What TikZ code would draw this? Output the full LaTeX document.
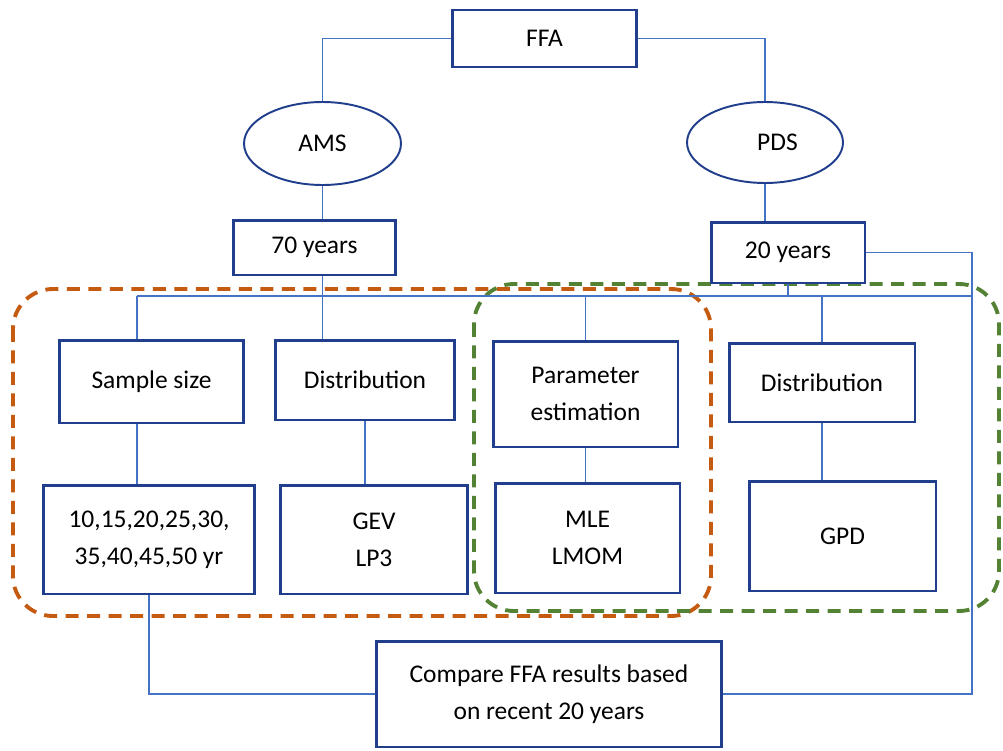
\documentclass[tikz,border=0pt]{standalone}
\usepackage{fontspec}
\setmainfont{Carlito}
\usetikzlibrary{shapes.geometric}
\definecolor{boxc}{RGB}{32,62,140}
\definecolor{linkc}{RGB}{68,114,196}
\definecolor{amsc}{RGB}{197,90,17}
\definecolor{pdsc}{RGB}{84,130,53}

\begin{document}
\begin{tikzpicture}[
  x=0.02cm, y=-0.02cm,
  font=\fontsize{14.5}{21}\selectfont,
  blk/.style={draw=boxc, line width=1.7pt, fill=white, align=center, inner sep=0},
  owal/.style={ellipse, draw=boxc, line width=1.1pt, fill=white, inner sep=0},
  lnk/.style={draw=linkc, line width=0.6pt},
  grp/.style={line width=2.2pt, rounded corners=0.8cm, dash pattern=on 0.26cm off 0.17cm},
]
\useasboundingbox (0,0) rectangle (1003,750);
% Grupy (AMS / PDS)
\draw[grp, draw=amsc] (13,289) rectangle (711,616);
\draw[grp, draw=pdsc] (474,284) rectangle (999,611);
% Gora
\node[blk, minimum width=3.7cm, minimum height=1.14cm] (ffa) at (544.5,38.5) {FFA};
\node[owal, minimum width=3.14cm, minimum height=1.66cm] (ams) at (322.5,143.5) {AMS};
\node[owal, minimum width=3.12cm, minimum height=1.62cm] (pds) at (765,142.5) {\hspace{0.5cm}PDS};
\node[blk, minimum width=3.26cm, minimum height=1.1cm] (y70) at (314.5,247.5) {70 years};
\node[blk, minimum width=3.08cm, minimum height=1.22cm] (y20) at (788,252.5) {20 years};
% Wiersz 1
\node[blk, minimum width=3.7cm, minimum height=1.66cm] (sample) at (151.5,381.5) {Sample size};
\node[blk, minimum width=3.6cm, minimum height=1.6cm] (dista) at (365,380) {Distribution};
\node[blk, minimum width=3.7cm, minimum height=2.12cm] (param) at (585.5,394) {Parameter\\estimation};
\node[blk, minimum width=3.72cm, minimum height=1.58cm] (distb) at (822,382.5) {Distribution};
% Wiersz 2
\node[blk, minimum width=4.24cm, minimum height=2.18cm] (years) at (149,539.5) {10,15,20,25,30,\\35,40,45,50 yr};
\node[blk, minimum width=3.76cm, minimum height=2.18cm] (gev) at (374,539.5) {GEV\\LP3};
\node[blk, minimum width=3.7cm, minimum height=2.2cm] (mle) at (587.5,538) {MLE\\LMOM};
\node[blk, minimum width=3.74cm, minimum height=2.2cm] (gpd) at (842.5,536) {GPD};
% Wynik
\node[blk, minimum width=6.92cm, minimum height=2.12cm] (cmp) at (549,694) {Compare FFA results based\\on recent 20 years};
% Polaczenia
\coordinate (busL) at (137,296);
\coordinate (rx) at (972,0);
\draw[lnk] (ffa.west) -| (ams.north);
\draw[lnk] (ffa.east) -| (pds.north);
\draw[lnk] (ams.south) -- (ams.south |- y70.north);
\draw[lnk] (pds.south) -- (pds.south |- y20.north);
\draw[lnk] (busL) -- (busL -| rx);
\draw[lnk] (ams.south |- y70.south) -- (ams.south |- dista.north);
\draw[lnk] (y20.south) -- (y20.south |- busL);
\draw[lnk] (busL) -- (busL |- sample.north);
\draw[lnk] (param.north |- busL) -- (param.north);
\draw[lnk] (distb.north |- busL) -- (distb.north);
\draw[lnk] (busL |- sample.south) -- (busL |- years.north);
\draw[lnk] (dista.south) -- (dista.south |- gev.north);
\draw[lnk] (param.south) -- (param.south |- mle.north);
\draw[lnk] (distb.south) -- (distb.south |- gpd.north);
\draw[lnk] (years.south) |- (cmp.west);
\draw[lnk] (y20.east) -- (y20.east -| rx) -- (rx |- cmp.east) -- (cmp.east);
\end{tikzpicture}
\end{document}
